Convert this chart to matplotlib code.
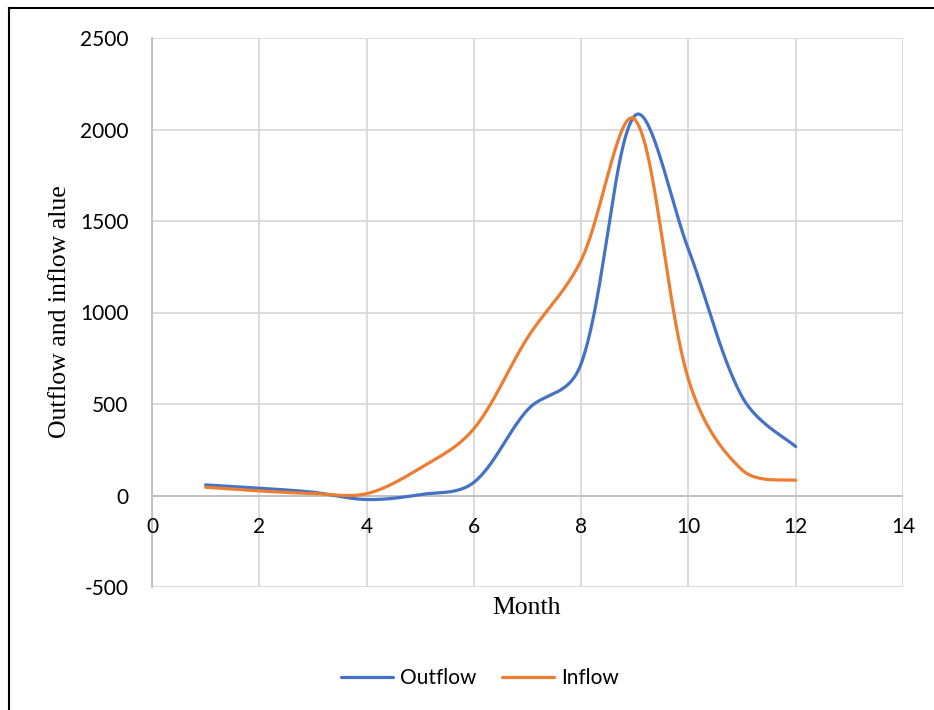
import numpy as np
import matplotlib.pyplot as plt
from matplotlib.lines import Line2D

# Data
months = [1, 2, 3, 4, 5, 6, 7, 8, 9, 10, 11, 12]
outflow = [58, 40, 18, -22, 5, 72, 468, 720, 2075, 1345, 540, 267]
inflow = [45, 25, 11, 10, 150, 365, 862, 1285, 2055, 635, 140, 83]

x_ticks = [0, 2, 4, 6, 8, 10, 12, 14]
y_ticks = [-500, 0, 500, 1000, 1500, 2000, 2500]

BLUE = '#4472C4'
ORANGE = '#ED7D31'
GRID = '#d9d9d9'

# pixels per data unit (used only to weight the curve smoothing)
SX = 751 / 14.0
SY = 549 / 3000.0


def smooth(xs, ys, n=40):
    """Excel-like smoothed line: cubic Bezier segments, mildly weighted by segment length."""
    P = np.column_stack([np.asarray(xs, float) * SX, np.asarray(ys, float) * SY])
    m = len(P)
    out = []
    for i in range(m - 1):
        p0, p1 = P[i], P[i + 1]
        pm = P[i - 1] if i > 0 else P[i]
        pn = P[i + 2] if i + 2 < m else P[i + 1]
        d_prev = np.sqrt(np.linalg.norm(p0 - pm))
        d_seg = np.sqrt(np.linalg.norm(p1 - p0))
        d_next = np.sqrt(np.linalg.norm(pn - p1))
        f0 = d_seg / (d_prev + d_seg) / 3 if i > 0 else 1 / 6
        f1 = d_seg / (d_seg + d_next) / 3 if i + 2 < m else 1 / 6
        c1 = p0 + (p1 - pm) * f0
        c2 = p1 - (pn - p0) * f1
        t = np.linspace(0, 1, n)[:, None]
        seg = ((1 - t) ** 3) * p0 + 3 * ((1 - t) ** 2) * t * c1 + 3 * (1 - t) * t ** 2 * c2 + t ** 3 * p1
        out.append(seg if i == 0 else seg[1:])
    out = np.vstack(out)
    return out[:, 0] / SX, out[:, 1] / SY


fig = plt.figure(figsize=(9.34, 7.1), dpi=100)
ax = fig.add_axes([152 / 934, 1 - 587 / 710, 751 / 934, 549 / 710])

xo, yo = smooth(months, outflow)
xi, yi = smooth(months, inflow)
ax.plot(xo, yo, color=BLUE, lw=2.3, label='Outflow', solid_capstyle='round', zorder=3)
ax.plot(xi, yi, color=ORANGE, lw=2.3, label='Inflow', solid_capstyle='round', zorder=3)

ax.set_xlim(0, 14)
ax.set_ylim(-500, 2500)
ax.set_xticks(x_ticks)
ax.set_yticks(y_ticks)
ax.grid(True, color=GRID, lw=1.3)
ax.set_axisbelow(True)
for s in ['top', 'right', 'bottom']:
    ax.spines[s].set_visible(False)
ax.spines['left'].set_color('#bfbfbf')
ax.spines['left'].set_linewidth(1.3)
ax.axhline(0, color='#bfbfbf', lw=1.3, zorder=2)

ax.tick_params(length=0)
ax.set_yticklabels([str(v) for v in y_ticks], fontfamily='Lato', fontsize=15)
ax.tick_params(axis='y', pad=17)
ax.set_xticklabels([])
for xv in x_ticks:
    ax.annotate(str(xv), (xv, 0), xytext=(0, -23), textcoords='offset points',
                ha='center', va='center', fontfamily='Lato', fontsize=15)

fig.text(527 / 934, 1 - 608 / 710, 'Month', ha='center', va='center',
         fontfamily='Liberation Serif', fontsize=18.5)
fig.text(60 / 934, 1 - 312 / 710, 'Outflow and inflow alue', ha='center', va='center',
         rotation=90, fontfamily='Liberation Serif', fontsize=18.5)

fig.legend(loc='center', bbox_to_anchor=(480 / 934, 1 - 678 / 710), ncol=2, frameon=False,
           prop={'family': 'Lato', 'size': 15}, handlelength=2.5, handletextpad=0.35,
           columnspacing=1.2)

# outer border of the chart area
fig.add_artist(Line2D([9 / 934, 9 / 934], [0, 1 - 8 / 710], color='black', lw=1.5))
fig.add_artist(Line2D([9 / 934, 1], [1 - 8 / 710, 1 - 8 / 710], color='black', lw=1.5))

fig.savefig('out.png', dpi=100)
